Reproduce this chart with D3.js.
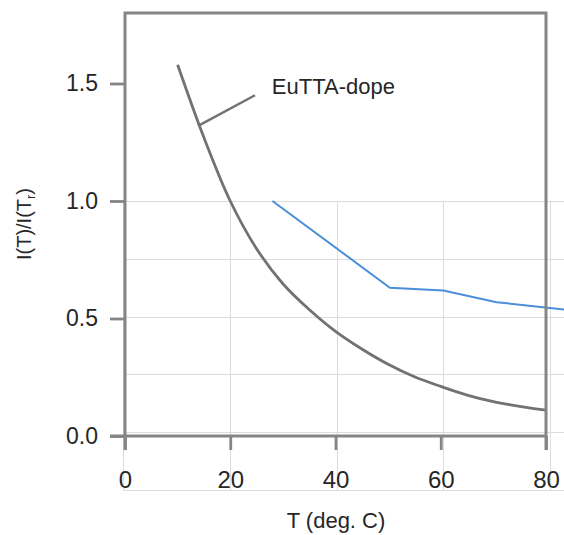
<!DOCTYPE html>
<html>
<head>
<meta charset="utf-8">
<script src="https://cdn.jsdelivr.net/npm/d3@7"></script>
<style>
  html, body { margin: 0; padding: 0; background: #fff; }
  svg { display: block; }
  text { font-family: "Liberation Sans", Arial, Helvetica, sans-serif; }
</style>
</head>
<body>
<svg id="chart" width="564" height="535"></svg>
<script>
// ---- Data ----
// Gray curve: EuTTA-dope, relative intensity vs temperature
const dopeT = [10, 15, 20, 25, 30, 35, 40, 45, 50, 55, 60, 65, 70, 75, 80];
const dopeI = [1.58, 1.27, 1.0, 0.797, 0.648, 0.538, 0.445, 0.37, 0.305, 0.252, 0.211, 0.174, 0.146, 0.126, 0.11];

// Blue overlaid series (its own underlying grid/scale)
const blueT = [28, 50, 60, 70, 80, 85];
const blueI = [1.0, 0.70, 0.69, 0.65, 0.63, 0.62];

// Tick labels
const xTicks = [0, 20, 40, 60, 80];
const yTicks = [0.0, 0.5, 1.0, 1.5];
const blueXGrid = [0, 20, 40, 60, 80, 100];
const blueYGrid = [0, 0.2, 0.4, 0.6, 0.8, 1.0];

const seriesLabel = "EuTTA-dope";
const labelAnchor = { t: 27.9, v: 1.455 };
const leader = [{ t: 13.9, v: 1.32 }, { t: 24.7, v: 1.45 }];

// ---- Scales ----
const x = d3.scaleLinear().domain([0, 80]).range([125, 546]);
const y = d3.scaleLinear().domain([0, 1.8]).range([436, 13]);

const xB = d3.scaleLinear().domain([0, 80]).range([123, 550]);
const yB = d3.scaleLinear().domain([0, 1]).range([490, 201]);

const svg = d3.select("#chart");
const frameColor = "#858585";
const textColor = "#262626";

// ---- Blue chart grid ----
const grid = svg.append("g").attr("stroke", "#dcdcdc").attr("stroke-width", 1);
grid.selectAll("line.h").data(blueYGrid).join("line")
  .attr("x1", xB(0)).attr("x2", 570)
  .attr("y1", d => Math.round(yB(d)) + 0.5).attr("y2", d => Math.round(yB(d)) + 0.5);
grid.selectAll("line.v").data(blueXGrid).join("line")
  .attr("x1", d => Math.round(xB(d)) + 0.5).attr("x2", d => Math.round(xB(d)) + 0.5)
  .attr("y1", yB(1)).attr("y2", yB(0));

// ---- Blue line ----
const blueData = blueT.map((t, i) => ({ t, v: blueI[i] }));
svg.append("path")
  .datum(blueData)
  .attr("fill", "none")
  .attr("stroke", "#4a8fd8")
  .attr("stroke-width", 2)
  .attr("d", d3.line().x(d => xB(d.t)).y(d => yB(d.v)));

// ---- Gray curve ----
const dopeData = dopeT.map((t, i) => ({ t, v: dopeI[i] }));
svg.append("path")
  .datum(dopeData)
  .attr("fill", "none")
  .attr("stroke", "#727272")
  .attr("stroke-width", 2.8)
  .attr("d", d3.line().curve(d3.curveCatmullRom.alpha(0.5)).x(d => x(d.t)).y(d => y(d.v)));

// ---- Axes ----
const yAxis = d3.axisLeft(y).tickValues(yTicks).tickFormat(d3.format(".1f"))
  .tickSize(15).tickPadding(12);
const gy = svg.append("g").attr("transform", `translate(${x(0)},0)`).call(yAxis);
gy.select(".domain").remove();
gy.selectAll(".tick line").attr("stroke", frameColor).attr("stroke-width", 2.8);
gy.selectAll(".tick text").attr("fill", textColor).attr("font-size", 23);

const xAxis = d3.axisBottom(x).tickValues(xTicks).tickFormat(d3.format("d"))
  .tickSize(14).tickPadding(21);
const gx = svg.append("g").attr("transform", `translate(0,${y(0)})`).call(xAxis);
gx.select(".domain").remove();
gx.selectAll(".tick line").attr("stroke", frameColor).attr("stroke-width", 2.8);
gx.selectAll(".tick text").attr("fill", textColor).attr("font-size", 24);

// ---- Frame ----
const frame = svg.append("g").attr("stroke", frameColor).attr("stroke-width", 3).attr("fill", "none");
frame.append("path").attr("d",
  `M${x(0)},${y(0) + 14} L${x(0)},${y(1.8)} L${x(80)},${y(1.8)} L${x(80)},${y(0) + 14}`);
frame.append("line").attr("x1", x(0) - 15).attr("x2", x(80)).attr("y1", y(0)).attr("y2", y(0));

// ---- Annotation ----
svg.append("line")
  .attr("x1", x(leader[0].t)).attr("y1", y(leader[0].v))
  .attr("x2", x(leader[1].t)).attr("y2", y(leader[1].v))
  .attr("stroke", "#727272").attr("stroke-width", 2.5);
svg.append("text")
  .attr("x", x(labelAnchor.t)).attr("y", y(labelAnchor.v))
  .attr("font-size", 22).attr("fill", textColor)
  .text(seriesLabel);

// ---- Axis titles ----
svg.append("text")
  .attr("x", 336).attr("y", 528)
  .attr("text-anchor", "middle")
  .attr("font-size", 22).attr("fill", textColor)
  .text("T (deg. C)");

const yt = svg.append("text")
  .attr("transform", "translate(31,224) rotate(-90)")
  .attr("text-anchor", "middle")
  .attr("font-size", 20).attr("fill", textColor);
yt.append("tspan").text("I(T)/I(T");
yt.append("tspan").attr("font-size", 13).attr("dy", 4).text("r");
yt.append("tspan").attr("dy", -4).text(")");
</script>
</body>
</html>
